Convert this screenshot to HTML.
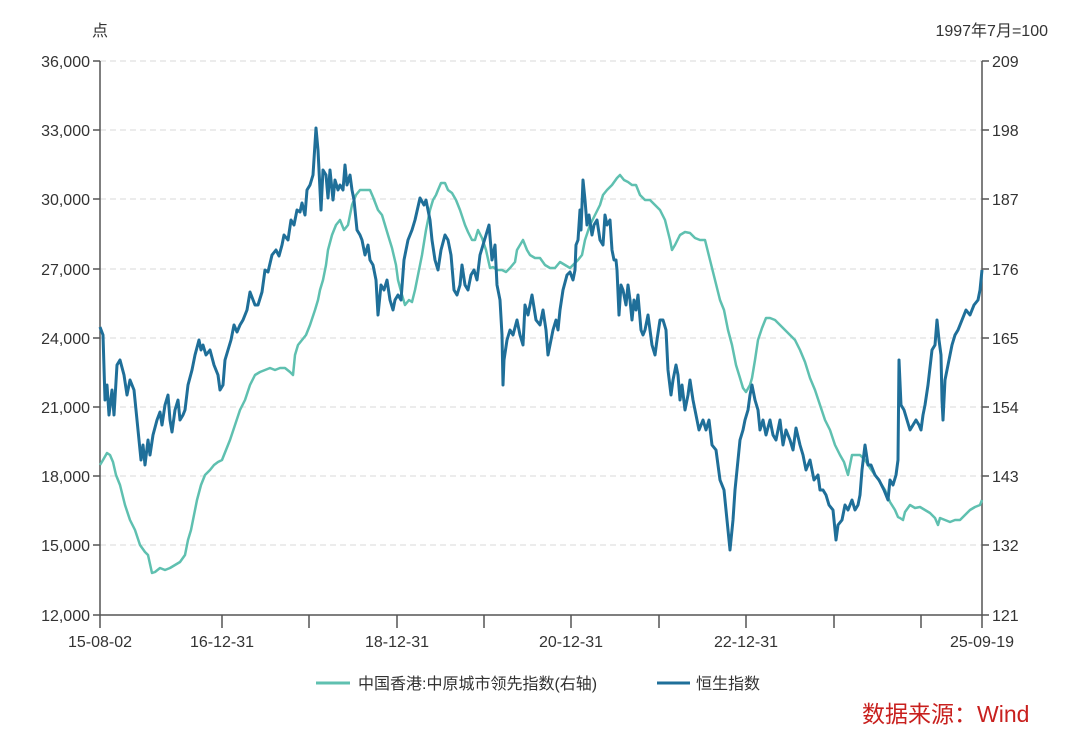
<!DOCTYPE html>
<html><head><meta charset="utf-8"><style>
body{margin:0;background:#fff;}
svg text{font-family:"Liberation Sans","Noto Sans CJK SC",sans-serif;fill:#333;}
</style></head><body>
<svg width="1080" height="747" viewBox="0 0 1080 747" xmlns="http://www.w3.org/2000/svg">
<g stroke="#d8d8d8" stroke-dasharray="6,4" stroke-width="1">
<line x1="100" y1="61" x2="982" y2="61"/><line x1="100" y1="130" x2="982" y2="130"/><line x1="100" y1="199" x2="982" y2="199"/><line x1="100" y1="269" x2="982" y2="269"/><line x1="100" y1="338" x2="982" y2="338"/><line x1="100" y1="407" x2="982" y2="407"/><line x1="100" y1="476" x2="982" y2="476"/><line x1="100" y1="545" x2="982" y2="545"/>
</g>
<g stroke="#555" stroke-width="1.5" fill="none">
<line x1="100" y1="61" x2="100" y2="615"/><line x1="982" y1="61" x2="982" y2="615"/><line x1="100" y1="615" x2="982" y2="615"/>
<path d="M93 61h7M93 130h7M93 199h7M93 269h7M93 338h7M93 407h7M93 476h7M93 545h7M93 615h7"/>
<path d="M982 61h7M982 130h7M982 199h7M982 269h7M982 338h7M982 407h7M982 476h7M982 545h7M982 615h7"/>
<path d="M222 615v13M309 615v13M397 615v13M484 615v13M571 615v13M659 615v13M746 615v13M834 615v13M921 615v13M100 615v13M982 615v13"/>
</g>
<g font-size="16" text-anchor="end">
<text x="90" y="67">36,000</text><text x="90" y="136">33,000</text><text x="90" y="205">30,000</text><text x="90" y="275">27,000</text><text x="90" y="344">24,000</text><text x="90" y="413">21,000</text><text x="90" y="482">18,000</text><text x="90" y="551">15,000</text><text x="90" y="621">12,000</text>
</g>
<g font-size="16">
<text x="992" y="67">209</text><text x="992" y="136">198</text><text x="992" y="205">187</text><text x="992" y="275">176</text><text x="992" y="344">165</text><text x="992" y="413">154</text><text x="992" y="482">143</text><text x="992" y="551">132</text><text x="992" y="621">121</text>
</g>
<g font-size="16" text-anchor="middle">
<text x="100" y="647">15-08-02</text><text x="222" y="647">16-12-31</text><text x="397" y="647">18-12-31</text><text x="571" y="647">20-12-31</text><text x="746" y="647">22-12-31</text><text x="982" y="647">25-09-19</text>
</g>
<text x="92" y="36" font-size="16">点</text>
<text x="1048" y="36" font-size="16" text-anchor="end">1997年7月=100</text>
<polyline fill="none" stroke="#5fc0b0" stroke-width="2.5" stroke-linejoin="round" points="100,465 103,460 107,453 110,455 113,462 116,475 120,485 125,505 130,520 135,530 140,545 145,552 148,555 152,573 155,572 160,568 165,570 170,568 175,565 180,562 185,555 188,540 191,530 194,515 197,500 201,485 205,475 210,470 214,465 218,462 222,460 226,450 230,440 235,425 240,410 245,400 250,385 255,375 260,372 265,370 270,368 275,370 280,368 285,368 290,372 293,375 295,355 298,345 302,340 306,335 310,325 315,310 318,300 320,290 323,280 326,265 328,250 332,235 336,225 340,220 344,230 348,225 352,205 356,195 360,190 365,190 370,190 373,197 378,210 382,215 385,225 388,235 392,248 396,265 398,280 402,295 405,305 409,300 412,302 415,290 418,275 422,255 426,230 430,210 433,200 436,195 438,190 441,183 445,183 448,190 452,193 456,200 460,210 465,225 468,232 472,240 475,240 478,230 482,238 486,250 490,268 493,267 497,270 502,270 506,272 510,268 515,262 517,250 520,245 523,240 527,250 530,255 535,258 540,258 545,265 550,268 555,268 560,262 565,265 570,268 573,265 578,260 582,255 585,240 590,225 595,215 600,205 603,195 607,190 612,185 617,178 620,175 624,180 628,182 632,185 636,185 640,195 645,200 650,200 655,205 660,210 665,220 670,240 672,250 675,245 680,235 685,232 690,233 695,238 700,240 705,240 710,260 715,280 720,300 724,310 728,330 732,345 736,365 740,378 743,388 746,392 750,385 752,378 755,360 758,340 762,328 766,318 770,318 775,320 780,325 785,330 790,335 795,340 800,350 805,362 810,378 815,390 820,405 825,420 830,430 835,445 840,455 844,462 848,475 850,465 852,455 855,455 860,455 865,460 870,468 875,475 880,482 885,490 890,502 895,510 898,517 900,518 903,520 905,512 910,505 915,508 920,507 925,510 930,513 935,518 938,525 940,518 945,520 950,522 955,520 960,520 965,515 970,510 975,507 980,505 982,500"/>
<polyline fill="none" stroke="#1f6f99" stroke-width="3" stroke-linejoin="round" points="100,327 103,335 105,400 107,385 109,415 112,390 114,415 117,365 120,360 124,375 127,395 130,380 134,390 138,430 141,460 143,445 145,465 148,440 150,455 153,435 157,420 160,412 162,425 165,405 168,395 170,420 172,432 175,410 178,400 180,420 183,415 185,410 188,385 192,370 195,355 199,340 201,350 203,345 206,355 210,350 214,365 218,375 220,390 223,385 225,360 228,350 231,340 234,325 237,332 240,325 243,320 247,310 250,292 255,305 258,305 262,292 265,270 268,272 272,255 276,250 279,256 282,245 284,235 288,240 291,220 294,225 297,210 300,212 302,203 305,215 307,190 310,185 313,175 316,128 318,150 321,210 323,170 326,175 328,198 330,170 333,200 335,180 338,190 340,185 343,190 345,165 347,185 350,175 352,190 354,200 357,230 360,235 362,240 365,255 368,245 370,260 373,265 376,280 378,315 381,285 384,290 387,280 390,300 393,310 395,300 398,295 401,300 404,260 408,240 412,230 415,220 420,198 424,205 426,200 430,220 432,240 435,260 438,270 441,250 445,235 448,240 451,255 454,290 457,295 460,285 462,265 465,285 468,290 471,275 474,270 477,280 480,255 483,245 486,235 489,225 492,260 495,245 497,285 500,300 502,335 503,385 504,360 507,340 510,330 513,335 517,320 520,335 523,345 525,305 528,315 532,295 536,320 540,325 543,310 546,330 548,355 550,345 553,330 556,320 558,330 560,310 563,290 567,275 570,272 573,280 575,270 576,245 578,240 580,210 581,230 583,180 585,200 587,225 589,215 592,235 594,225 597,220 600,240 603,245 605,215 607,225 610,220 612,250 614,260 616,260 617,270 619,315 621,285 623,290 626,305 628,285 630,300 632,320 634,300 636,310 638,295 641,330 643,335 645,330 648,315 650,330 652,345 655,355 657,340 660,320 663,320 666,330 668,370 671,395 673,380 676,365 678,375 680,400 682,385 685,410 688,395 690,380 693,400 696,415 699,430 703,420 706,430 709,420 712,445 716,450 720,480 724,490 727,520 730,550 733,520 735,490 738,460 740,440 743,430 745,420 748,410 750,395 752,385 755,400 758,410 760,430 763,420 766,435 770,420 773,435 776,440 780,420 783,445 786,430 790,440 793,450 796,428 800,445 803,455 806,470 810,460 814,480 818,475 820,490 823,490 826,495 829,505 833,510 836,540 838,525 842,520 845,505 848,510 852,500 855,510 858,505 860,495 862,470 865,445 868,465 871,465 875,475 879,480 884,490 888,500 890,480 893,485 896,475 898,460 899,360 901,405 904,410 907,420 910,430 913,425 916,420 919,425 921,430 923,415 925,405 928,385 932,350 935,345 937,320 939,340 941,355 942,400 943,420 945,380 948,365 952,345 955,335 958,330 962,320 966,310 970,315 974,305 978,300 980,290 982,270"/>
<line x1="316" y1="683" x2="350" y2="683" stroke="#5fc0b0" stroke-width="3"/>
<text x="358" y="689" font-size="16">中国香港:中原城市领先指数(右轴)</text>
<line x1="657" y1="683" x2="690" y2="683" stroke="#1f6f99" stroke-width="3"/>
<text x="696" y="689" font-size="16">恒生指数</text>
<text x="862" y="722" font-size="23" style="fill:#c8201e">数据来源：Wind</text>
</svg>
</body></html>
